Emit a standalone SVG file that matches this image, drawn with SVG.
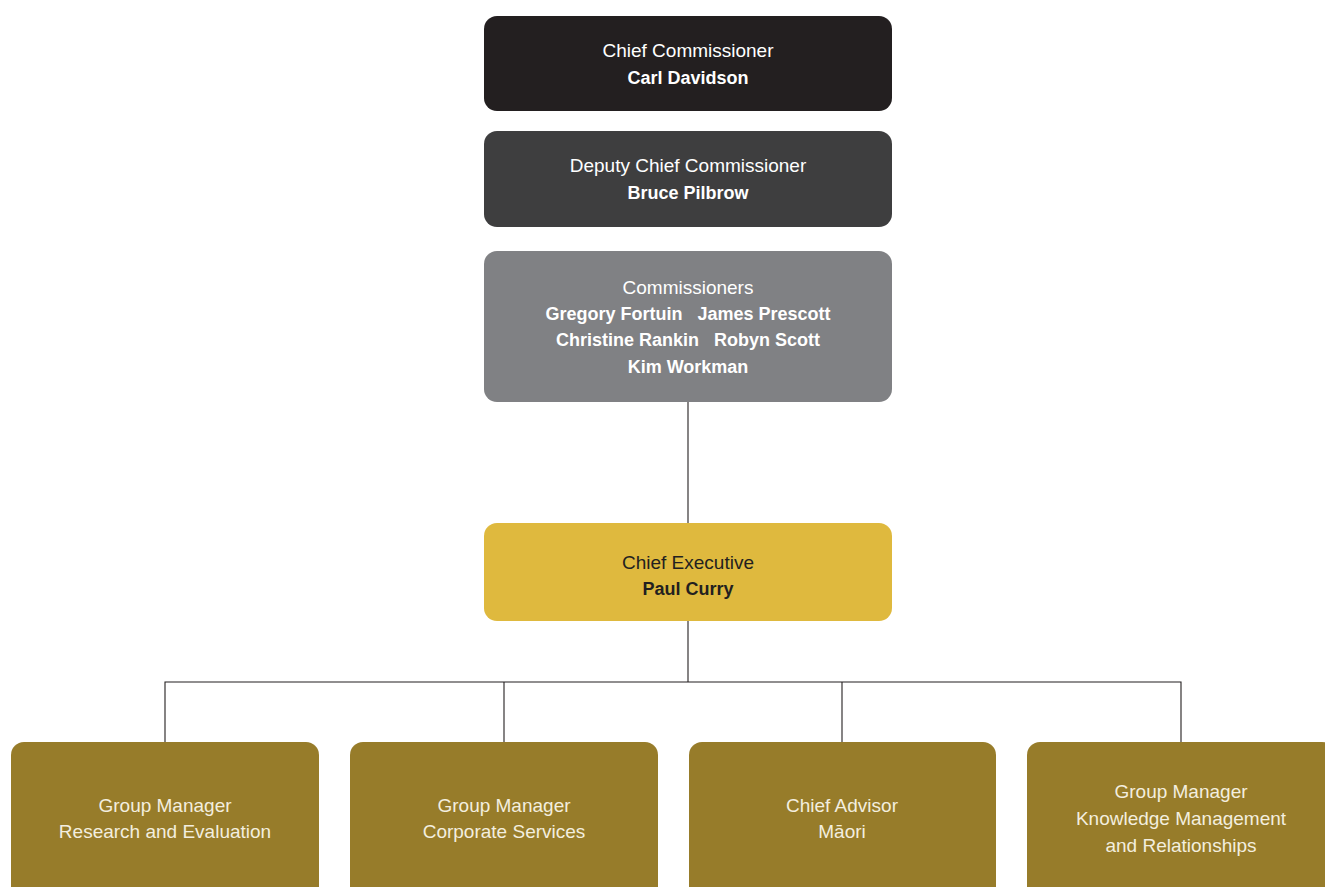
<svg xmlns="http://www.w3.org/2000/svg" width="1325" height="887" viewBox="0 0 1325 887">
<style>
  text { font-family: "Liberation Sans", Arial, sans-serif; text-anchor: middle; }
  .t { font-size: 19px; }
  .b { font-size: 18px; font-weight: bold; }
  .w { fill: #ffffff; }
  .d { fill: #231f20; }
  .lw { fill: #f3eedf; }
  .conn { stroke: #231f20; stroke-width: 1.1; fill: none; }
</style>
<rect width="1325" height="887" fill="#ffffff"/>
<g id="connectors">
  <path class="conn" d="M688 402 V523"/>
  <path class="conn" d="M688 621 V682"/>
  <path class="conn" d="M165 742 V682 H1181 V742"/>
  <path class="conn" d="M504 682 V742"/>
  <path class="conn" d="M842 682 V742"/>
</g>
<g id="chief-commissioner">
  <rect x="484" y="16" width="408" height="95" rx="13" fill="#231f20"/>
  <text class="t w" x="688" y="57">Chief Commissioner</text>
  <text class="b w" x="688" y="84">Carl Davidson</text>
</g>
<g id="deputy-chief-commissioner">
  <rect x="484" y="131" width="408" height="96" rx="13" fill="#3e3e3f"/>
  <text class="t w" x="688" y="172">Deputy Chief Commissioner</text>
  <text class="b w" x="688" y="199">Bruce Pilbrow</text>
</g>
<g id="commissioners">
  <rect x="484" y="251" width="408" height="151" rx="13" fill="#808184"/>
  <text class="t w" x="688" y="294">Commissioners</text>
  <text class="b w" x="688" y="320">Gregory Fortuin&#160;&#160;&#160;James Prescott</text>
  <text class="b w" x="688" y="346">Christine Rankin&#160;&#160;&#160;Robyn Scott</text>
  <text class="b w" x="688" y="373">Kim Workman</text>
</g>
<g id="chief-executive">
  <rect x="484" y="523" width="408" height="98" rx="13" fill="#dfb93e"/>
  <text class="t d" x="688" y="569">Chief Executive</text>
  <text class="b d" x="688" y="595">Paul Curry</text>
</g>
<g id="gm-research">
  <rect x="11" y="742" width="308" height="160" rx="13" fill="#977c2a"/>
  <text class="t lw" x="165" y="812">Group Manager</text>
  <text class="t lw" x="165" y="838">Research and Evaluation</text>
</g>
<g id="gm-corporate">
  <rect x="350" y="742" width="308" height="160" rx="13" fill="#977c2a"/>
  <text class="t lw" x="504" y="812">Group Manager</text>
  <text class="t lw" x="504" y="838">Corporate Services</text>
</g>
<g id="chief-advisor">
  <rect x="689" y="742" width="307" height="160" rx="13" fill="#977c2a"/>
  <text class="t lw" x="842" y="812">Chief Advisor</text>
  <text class="t lw" x="842" y="838">Māori</text>
</g>
<g id="gm-knowledge">
  <rect x="1027" y="742" width="308" height="160" rx="13" fill="#977c2a"/>
  <text class="t lw" x="1181" y="798">Group Manager</text>
  <text class="t lw" x="1181" y="825">Knowledge Management</text>
  <text class="t lw" x="1181" y="852">and Relationships</text>
</g>
</svg>
